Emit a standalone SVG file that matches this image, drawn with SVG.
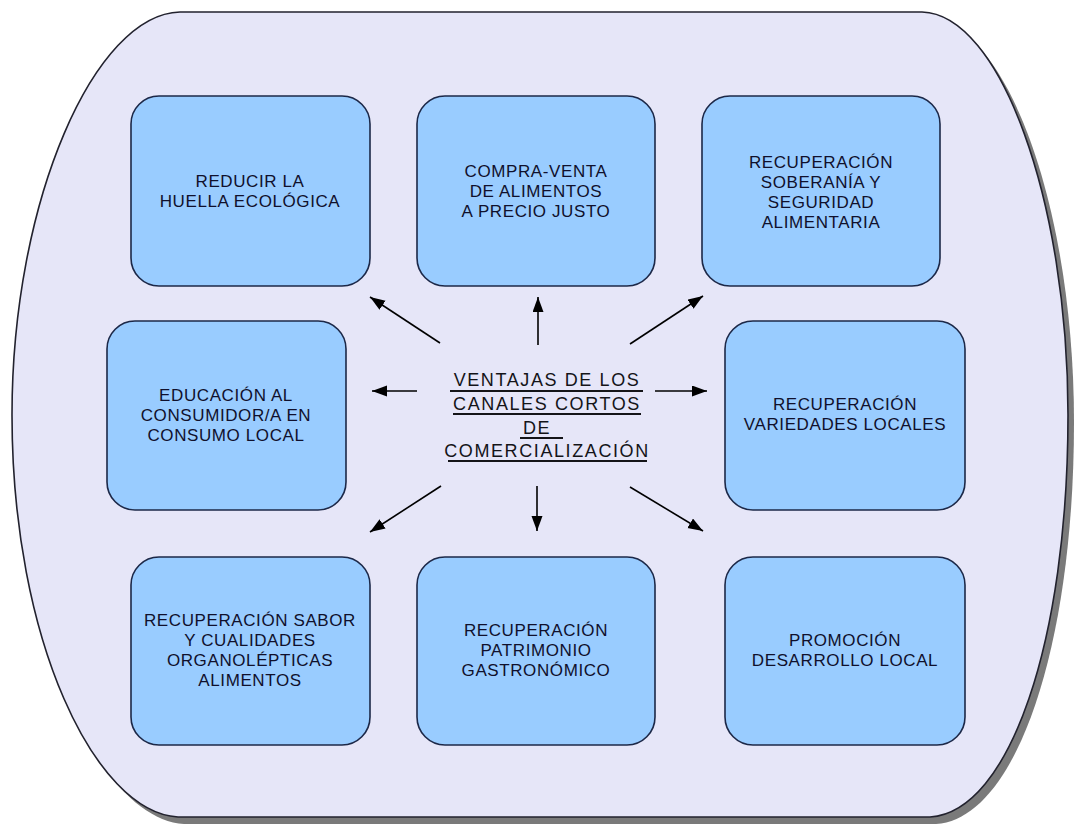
<svg xmlns="http://www.w3.org/2000/svg" width="1087" height="827" viewBox="0 0 1087 827">
<style>
.box{fill:#99ccff;stroke:#1c2848;stroke-width:1.6}
.bt{font-family:"Liberation Sans",Arial,sans-serif;font-size:17px;letter-spacing:0.6px;fill:#10102c;text-anchor:middle}
.ct{font-family:"Liberation Sans",Arial,sans-serif;font-size:18px;letter-spacing:1.6px;fill:#141418;text-anchor:middle}
.ul{stroke:#141418;stroke-width:2}
.ar{stroke:#000;stroke-width:1.6;fill:none;marker-end:url(#ah)}
</style>
<defs>
<marker id="ah" markerUnits="userSpaceOnUse" markerWidth="16" markerHeight="12" refX="15" refY="5.5" orient="auto">
<path d="M0,0 L15,5.5 L0,11 z" fill="#000"/>
</marker>
</defs>
<rect width="1087" height="827" fill="#ffffff"/>
<g id="frame">
<path d="M180,12 L922,12 C1000,14 1068,200 1068,415 C1068,640 1010,812 930,817 L178,817 C95,812 12,640 12,415 C12,200 95,14 180,12 Z" fill="#7a7a7a" transform="translate(6,7)"/>
<path d="M180,12 L922,12 C1000,14 1068,200 1068,415 C1068,640 1010,812 930,817 L178,817 C95,812 12,640 12,415 C12,200 95,14 180,12 Z" fill="#e6e6f8" stroke="#22222e" stroke-width="1.6"/>
</g>
<g id="n1">
<rect class="box" x="131" y="96" width="239" height="190" rx="28"/>
<text class="bt" x="250" y="187">REDUCIR LA</text>
<text class="bt" x="250" y="207">HUELLA ECOLÓGICA</text>
</g>
<g id="n2">
<rect class="box" x="417" y="96" width="238" height="190" rx="28"/>
<text class="bt" x="536" y="177">COMPRA-VENTA</text>
<text class="bt" x="536" y="197">DE ALIMENTOS</text>
<text class="bt" x="536" y="217">A PRECIO JUSTO</text>
</g>
<g id="n3">
<rect class="box" x="702" y="96" width="238" height="190" rx="28"/>
<text class="bt" x="821" y="168">RECUPERACIÓN</text>
<text class="bt" x="821" y="188">SOBERANÍA Y</text>
<text class="bt" x="821" y="208">SEGURIDAD</text>
<text class="bt" x="821" y="228">ALIMENTARIA</text>
</g>
<g id="n4">
<rect class="box" x="107" y="321" width="239" height="189" rx="28"/>
<text class="bt" x="226" y="401">EDUCACIÓN AL</text>
<text class="bt" x="226" y="421">CONSUMIDOR/A EN</text>
<text class="bt" x="226" y="441">CONSUMO LOCAL</text>
</g>
<g id="n5">
<rect class="box" x="725" y="321" width="240" height="189" rx="28"/>
<text class="bt" x="845" y="410">RECUPERACIÓN</text>
<text class="bt" x="845" y="430">VARIEDADES LOCALES</text>
</g>
<g id="n6">
<rect class="box" x="131" y="557" width="239" height="188" rx="28"/>
<text class="bt" x="250" y="626">RECUPERACIÓN SABOR</text>
<text class="bt" x="250" y="646">Y CUALIDADES</text>
<text class="bt" x="250" y="666">ORGANOLÉPTICAS</text>
<text class="bt" x="250" y="686">ALIMENTOS</text>
</g>
<g id="n7">
<rect class="box" x="417" y="557" width="238" height="188" rx="28"/>
<text class="bt" x="536" y="636">RECUPERACIÓN</text>
<text class="bt" x="536" y="656">PATRIMONIO</text>
<text class="bt" x="536" y="676">GASTRONÓMICO</text>
</g>
<g id="n8">
<rect class="box" x="725" y="557" width="240" height="188" rx="28"/>
<text class="bt" x="845" y="646">PROMOCIÓN</text>
<text class="bt" x="845" y="666">DESARROLLO LOCAL</text>
</g>
<g id="center">
<text class="ct" x="547" y="386">VENTAJAS DE LOS</text>
<line class="ul" x1="450" y1="391" x2="643" y2="391"/>
<text class="ct" x="547" y="410">CANALES CORTOS</text>
<line class="ul" x1="453" y1="414" x2="641" y2="414"/>
<text class="ct" x="537" y="434">DE</text>
<line class="ul" x1="520" y1="438" x2="563" y2="438"/>
<text class="ct" x="547" y="457">COMERCIALIZACIÓN</text>
<line class="ul" x1="448" y1="461" x2="647" y2="461"/>
</g>
<g id="connectors">
<line class="ar" x1="440" y1="343" x2="370" y2="297"/>
<line class="ar" x1="538" y1="345" x2="538" y2="297"/>
<line class="ar" x1="630" y1="344" x2="703" y2="296"/>
<line class="ar" x1="417" y1="391" x2="372" y2="391"/>
<line class="ar" x1="655" y1="391" x2="707" y2="391"/>
<line class="ar" x1="441" y1="486" x2="370" y2="532"/>
<line class="ar" x1="537" y1="486" x2="537" y2="531"/>
<line class="ar" x1="630" y1="487" x2="703" y2="531"/>
</g>
</svg>
